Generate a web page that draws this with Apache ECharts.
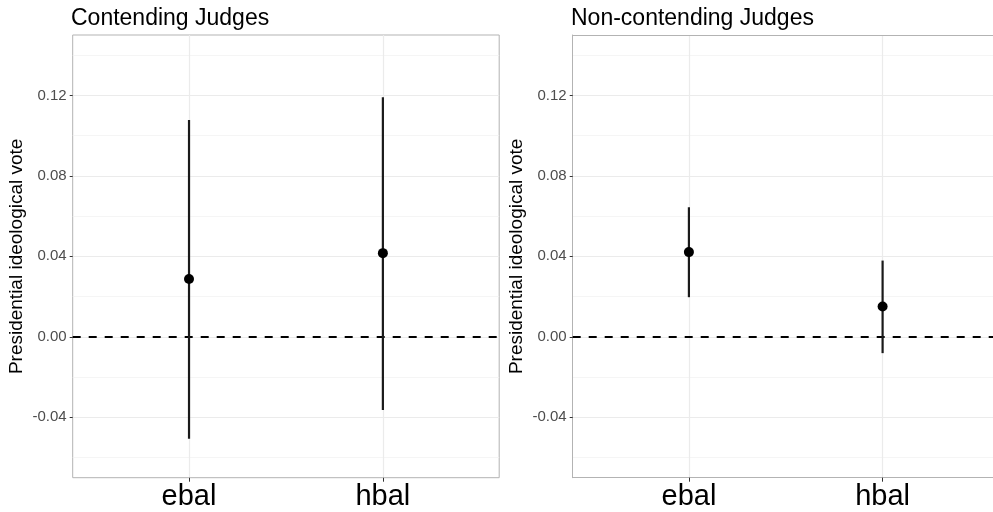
<!DOCTYPE html>
<html>
<head>
<meta charset="utf-8">
<script src="https://cdn.jsdelivr.net/npm/echarts@6/dist/echarts.min.js"></script>
<style>
  html, body { margin: 0; padding: 0; background: #fff; }
  #container { width: 993px; height: 512px; }
</style>
</head>
<body>
<div id="container"></div>
<script>
// estimates and 95% intervals
var categories = ['ebal', 'hbal'];
var contendEst = [0.0287, 0.0416];
var contendLo = [-0.0507, -0.0363];
var contendHi = [0.1078, 0.1191];
var nonEst = [0.0421, 0.0151];
var nonLo = [0.0197, -0.0081];
var nonHi = [0.0644, 0.0379];

var yTicks = [-0.04, 0, 0.04, 0.08, 0.12];
var yMinor = [-0.06, -0.02, 0.02, 0.06, 0.10, 0.14];
var xTicks = [1, 2];

var font = 'Liberation Sans';
var borderCol = '#B3B3B3';

function makeX(idx, max, line) {
    return {
        type: 'value', gridIndex: idx, min: 0.4, max: max,
        axisLine: { show: line, onZero: false, lineStyle: { color: borderCol, width: 1 } },
        splitLine: { show: false },
        axisTick: { customValues: xTicks, length: 4, lineStyle: { color: '#333', width: 1 } },
        axisLabel: {
            customValues: xTicks, margin: 5,
            fontFamily: font, fontSize: 29, color: '#000',
            formatter: function (v) { return categories[Math.round(v) - 1]; }
        }
    };
}

function makeY(idx, line) {
    return {
        type: 'value', gridIndex: idx, min: -0.07, max: 0.15,
        name: 'Presidential ideological vote',
        nameLocation: 'middle', nameGap: 46,
        nameTextStyle: { fontFamily: font, fontSize: 19, color: '#000' },
        axisLine: { show: line, onZero: false, lineStyle: { color: borderCol, width: 1 } },
        splitLine: { show: false },
        axisTick: { customValues: yTicks, length: 3, lineStyle: { color: '#333', width: 1 } },
        axisLabel: {
            customValues: yTicks, margin: 6,
            fontFamily: font, fontSize: 15, color: '#4D4D4D',
            formatter: function (v) { return v.toFixed(2); }
        }
    };
}

function gridLines(idx, topEdge) {
    var data = [];
    yMinor.forEach(function (v) {
        data.push({ yAxis: v, lineStyle: { color: '#F2F2F2', width: 0.8, type: 'solid' } });
    });
    yTicks.forEach(function (v) {
        data.push({ yAxis: v, lineStyle: { color: '#EBEBEB', width: 1.2, type: 'solid' } });
    });
    xTicks.forEach(function (v) {
        data.push({ xAxis: v, lineStyle: { color: '#EBEBEB', width: 1.2, type: 'solid' } });
    });
    if (topEdge) {
        // panel top border (right panel runs off the canvas, so no full box)
        data.push({ yAxis: 0.15, lineStyle: { color: borderCol, width: 1, type: 'solid' } });
    }
    return {
        type: 'line', xAxisIndex: idx, yAxisIndex: idx, data: [], z: 0, silent: true,
        markLine: { silent: true, z: 0, symbol: 'none', label: { show: false }, data: data, animation: false }
    };
}

function zeroLine(idx) {
    return {
        type: 'line', xAxisIndex: idx, yAxisIndex: idx, data: [], z: 1, silent: true,
        markLine: {
            silent: true, z: 1, symbol: 'none', label: { show: false }, animation: false,
            lineStyle: { color: '#000', width: 2, type: [8, 8] },
            data: [{ yAxis: 0 }]
        }
    };
}

function bars(idx, lo, hi) {
    var d = lo.map(function (l, i) { return [i + 1, l, hi[i]]; });
    return {
        type: 'custom', xAxisIndex: idx, yAxisIndex: idx, data: d, z: 3,
        encode: { x: 0, y: [1, 2] },
        renderItem: function (params, api) {
            var p1 = api.coord([api.value(0), api.value(1)]);
            var p2 = api.coord([api.value(0), api.value(2)]);
            return {
                type: 'line',
                shape: { x1: p1[0], y1: p1[1], x2: p2[0], y2: p2[1] },
                style: { stroke: '#1a1a1a', lineWidth: 2.2 }
            };
        }
    };
}

function points(idx, est) {
    return {
        type: 'scatter', xAxisIndex: idx, yAxisIndex: idx, z: 4,
        data: est.map(function (v, i) { return [i + 1, v]; }),
        symbolSize: 10, itemStyle: { color: '#000', opacity: 1 }
    };
}

var option = {
    animation: false,
    backgroundColor: '#fff',
    title: [
        { text: 'Contending Judges', left: 66, top: 2,
          textStyle: { fontFamily: font, fontSize: 23, fontWeight: 'normal', color: '#000' } },
        { text: 'Non-contending Judges', left: 566, top: 2,
          textStyle: { fontFamily: font, fontSize: 23, fontWeight: 'normal', color: '#000' } }
    ],
    grid: [
        { left: 72.7, top: 35, width: 426.5, height: 442.7, show: true, borderColor: borderCol, borderWidth: 1 },
        { left: 572.7, top: 35, width: 421, height: 442.7, show: false }
    ],
    xAxis: [makeX(0, 2.6, false), makeX(1, 2.57, true)],
    yAxis: [makeY(0, false), makeY(1, true)],
    series: [
        gridLines(0, false), zeroLine(0), bars(0, contendLo, contendHi), points(0, contendEst),
        gridLines(1, true), zeroLine(1), bars(1, nonLo, nonHi), points(1, nonEst)
    ]
};

var myChart = echarts.init(document.getElementById('container'));
myChart.setOption(option);
</script>
</body>
</html>
